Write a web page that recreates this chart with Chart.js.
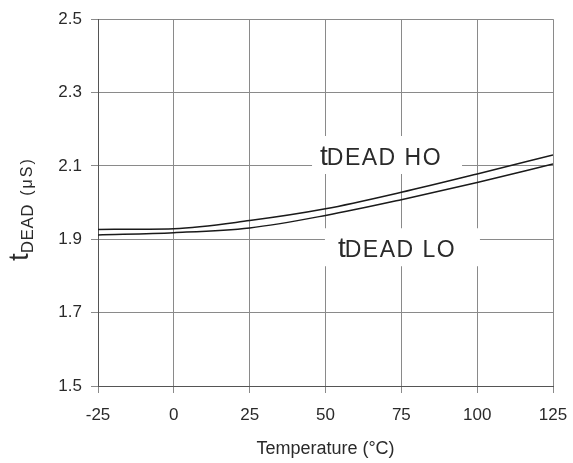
<!DOCTYPE html>
<html>
<head>
<meta charset="utf-8">
<script src="https://cdn.jsdelivr.net/npm/chart.js@4"></script>
<style>
  html, body { margin: 0; padding: 0; background: #fff; }
  #wrap { width: 573px; height: 463px; }
</style>
</head>
<body>
<div id="wrap"><canvas id="myChart" width="573" height="463"></canvas></div>
<script>
var temps = [-25, 0, 25, 50, 75, 100, 125]
var deadHO = [1.927, 1.929, 1.951, 1.983, 2.028, 2.078, 2.130]
var deadLO = [1.912, 1.918, 1.931, 1.965, 2.008, 2.055, 2.105]
var xTicks = [-25, 0, 25, 50, 75, 100, 125]
var yTicks = [1.5, 1.7, 1.9, 2.1, 2.3, 2.5]

var fontName = "'Liberation Sans', Arial, sans-serif"
var textColor = '#2a2a2a'

// curve labels, anchored in data units (x, baseline y)
var curveLabels = [
    { sub: 'DEAD HO', x: 48.2, y: 2.1025, boxL: -8, boxR: 142 },
    { sub: 'DEAD LO', x: 54.1, y: 1.851, boxL: -13, boxR: 142 }
]

function toPts(ys) {
    return temps.map(function (t, i) { return { x: t, y: ys[i] } })
}

var labelPlugin = {
    id: 'labels',
    afterDatasetsDraw: function (chart) {
        var ctx = chart.ctx
        var xs = chart.scales.x, ys = chart.scales.y
        ctx.save()
        curveLabels.forEach(function (l) {
            var px = xs.getPixelForValue(l.x)
            var py = ys.getPixelForValue(l.y)
            ctx.fillStyle = '#fff'
            ctx.fillRect(px + l.boxL, py - 29, l.boxR - l.boxL, 38)
            ctx.fillStyle = textColor
            ctx.textBaseline = 'alphabetic'
            ctx.textAlign = 'left'
            ctx.font = '28px ' + fontName
            ctx.fillText('t', px, py)
            var w = ctx.measureText('t').width
            ctx.font = '23px ' + fontName
            ctx.letterSpacing = '1.5px'
            ctx.fillText(l.sub, px + w - 1, py)
            ctx.letterSpacing = '0px'
        })
        ctx.restore()

        // y axis title: t + DEAD subscript + (µS)
        ctx.save()
        ctx.translate(33, 261)
        ctx.rotate(-Math.PI / 2)
        ctx.fillStyle = textColor
        ctx.textBaseline = 'alphabetic'
        ctx.font = '28px ' + fontName
        ctx.fillText('t', 0, -5)
        var x = ctx.measureText('t').width
        ctx.font = '17px ' + fontName
        ctx.letterSpacing = '0.5px'
        ctx.fillText('DEAD', x, 0)
        x += ctx.measureText('DEAD ').width + 3
        ctx.font = '16px ' + fontName
        ctx.letterSpacing = '2px'
        ctx.fillText('(\u03BCS)', x, -1)
        ctx.letterSpacing = '0px'
        ctx.restore()
    }
}

var ctx = document.getElementById('myChart').getContext('2d')
var myChart = new Chart(ctx, {
    type: 'line',
    data: {
        datasets: [{
            label: 'tDEAD HO',
            data: toPts(deadHO),
            borderColor: '#1a1a1a',
            borderWidth: 1.5,
            pointRadius: 0,
            cubicInterpolationMode: 'monotone'
        }, {
            label: 'tDEAD LO',
            data: toPts(deadLO),
            borderColor: '#1a1a1a',
            borderWidth: 1.5,
            pointRadius: 0,
            cubicInterpolationMode: 'monotone'
        }]
    },
    options: {
        responsive: false,
        animation: false,
        layout: { padding: { top: 18, right: 20, left: 0, bottom: 0 } },
        plugins: {
            legend: { display: false },
            tooltip: { enabled: false }
        },
        scales: {
            x: {
                type: 'linear',
                min: -25,
                max: 125,
                afterBuildTicks: function (s) { s.ticks = xTicks.map(function (v) { return { value: v } }) },
                afterFit: function (s) {
                    s.height = 77
                    s.paddingLeft = 0
                    s.paddingRight = 0
                },
                grid: { color: '#8a8a8a', tickLength: 7, lineWidth: 1 },
                border: { color: '#555', width: 1 },
                ticks: { color: textColor, font: { family: fontName, size: 17 }, padding: 12, maxRotation: 0 },
                title: {
                    display: true,
                    text: 'Temperature (\u00B0C)',
                    color: textColor,
                    font: { family: fontName, size: 18 },
                    padding: { top: 0, bottom: 3 }
                }
            },
            y: {
                min: 1.5,
                max: 2.5,
                afterBuildTicks: function (s) { s.ticks = yTicks.map(function (v) { return { value: v } }) },
                afterFit: function (s) { s.width = 98 },
                grid: { color: '#8a8a8a', tickLength: 7, lineWidth: 1 },
                border: { color: '#555', width: 1 },
                ticks: {
                    color: textColor,
                    font: { family: fontName, size: 17 },
                    padding: 9,
                    callback: function (v) { return v.toFixed(1) }
                }
            }
        }
    },
    plugins: [labelPlugin]
})
</script>
</body>
</html>
